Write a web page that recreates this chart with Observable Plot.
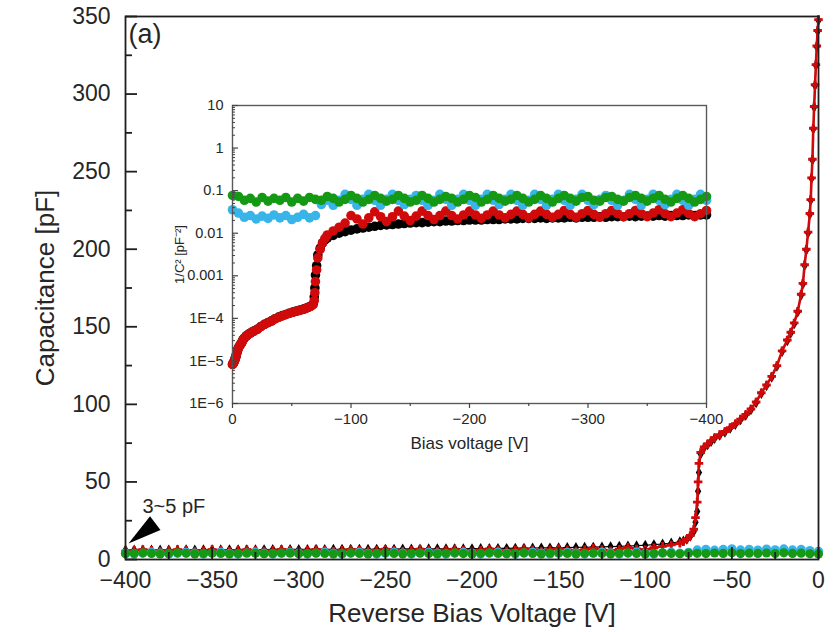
<!DOCTYPE html>
<html><head><meta charset="utf-8">
<script src="https://cdn.jsdelivr.net/npm/d3@7"></script>
<script src="https://cdn.jsdelivr.net/npm/@observablehq/plot@0.6"></script>
<style>
body{margin:0;background:#fff;}
#wrap{position:relative;width:833px;height:632px;overflow:hidden;}
#wrap svg{position:absolute;left:0;top:0;}
</style></head><body><div id="wrap"></div>
<script>
// ---------- DATA ----------
// red / black devices: voltage grid (V)
const vRB = [-400,-395,-390,-385,-380,-375,-370,-365,-360,-355,-350,-345,-340,-335,-330,-325,-320,-315,-310,-305,-300,-295,-290,-285,-280,-275,-270,-265,-260,-255,-250,-245,-240,-235,-230,-225,-220,-215,-210,-205,-200,-195,-190,-185,-180,-175,-170,-165,-160,-155,-150,-145,-140,-135,-130,-125,-120,-115,-110,-105,-100,-95,-90,-85,-80,
  -78,-76,-74,-72,-71,-70,-69.5,-69,-68,-66,-64,-62,-60,-57,-54,-51,-48,-45,-42,-39,-36,-33,-30,-27,-24,-21,-18,-16,-14,-12,-10,-9,-8,-7,-6,-5,-4.5,-4,-3.5,-3,-2.5,-2,-1.5,-1,-0.5,0];
// capacitance (pF)
const blackC = [6.1,6.1,6.2,6.1,6.2,6.2,6.2,6.3,6.2,6.3,6.3,6.3,6.4,6.3,6.4,6.4,6.4,6.5,6.4,6.5,6.5,6.5,6.6,6.5,6.6,6.6,6.6,6.7,6.6,6.7,6.7,6.7,6.8,6.8,6.8,6.9,6.9,6.9,7.0,7.0,7.0,7.1,7.1,7.2,7.2,7.3,7.3,7.4,7.5,7.5,7.6,7.7,7.8,7.9,8.0,8.1,8.3,8.5,8.7,8.9,9.2,9.6,10.0,10.6,11.4,
  12.0,13.0,15.0,18.0,24,31,44,56,68,72,74,76,78,80,82,84.5,87,90,93,96.5,101,107,112,117.5,124.5,134,141,146,152,159.5,170.5,177.5,189.5,199.5,210.5,222.5,231.5,245.5,257.5,277.5,291.5,305.5,318.5,330.5,340.5,347.5];
const redC = [5.4,5.9,6.4,5.9,5.3,5.8,6.4,5.9,5.3,5.8,6.4,5.9,5.4,5.9,6.4,5.9,5.4,5.9,6.5,6.0,5.4,5.9,6.5,6.0,5.4,6.0,6.5,6.0,5.5,6.0,6.6,6.0,5.5,6.0,6.6,6.1,5.5,6.1,6.7,6.1,5.5,6.1,6.8,6.2,5.5,6.2,6.9,6.2,5.5,6.3,7.1,6.3,5.5,6.4,7.3,6.4,5.6,6.6,7.8,6.8,6.2,7.6,8.5,9.4,10.5,
  11.5,13.0,15.5,19.5,27,37,50,62,69,72.5,74.5,76.5,78.5,80.5,82.5,85,87.5,90.5,93.5,97,101.5,107.5,112.5,118,125,134.5,141.5,146.5,152.5,160,171,178,190,200,211,223,232,246,258,278,292,306,319,331,341,348];
// blue / green devices: voltage grid (V)
const vBG = [-400,-395,-390,-385,-380,-375,-370,-365,-360,-355,-350,-345,-340,-335,-330,-325,-320,-315,-310,-305,-300,-295,-290,-285,-280,-275,-270,-265,-260,-255,-250,-245,-240,-235,-230,-225,-220,-215,-210,-205,-200,-195,-190,-185,-180,-175,-170,-165,-160,-155,-150,-145,-140,-135,-130,-125,-120,-115,-110,-105,-100,-95,-90,-85,-80,-75,-70,-65,-60,-55,-50,-45,-40,-35,-30,-25,-20,-15,-10,-5,0];
const greenC = [3.7,4.0,4.3,3.9,3.6,3.9,4.3,4.0,3.6,3.9,4.2,3.9,3.6,3.8,4.2,4.0,3.7,3.8,4.2,4.1,3.7,3.8,4.2,3.9,3.6,3.9,4.3,3.9,3.6,4.0,4.3,3.9,3.6,4.0,4.2,3.9,3.6,4.0,4.3,3.8,3.6,4.0,4.3,3.9,3.7,4.0,4.3,3.9,3.6,4.1,4.3,3.9,3.6,4.0,4.2,3.9,3.6,4.0,4.3,3.9,3.6,4.0,4.3,3.9,3.7,
  4.1,4.0,3.8,4.2,3.9,4.3,3.8,4.1,3.9,4.2,3.8,4.3,3.9,4.1,3.7,3.6];
const blueC = [4.1,3.5,4.0,4.7,4.1,3.5,4.0,4.6,4.1,3.5,4.0,4.7,4.0,3.5,4.1,4.7,4.1,3.6,4.0,4.6,4.1,3.5,4.0,4.7,4.1,3.5,4.0,4.7,4.0,3.5,4.1,4.7,4.1,3.5,4.0,4.6,4.1,3.5,4.0,4.7,4.1,3.5,4.0,4.7,4.0,3.5,4.1,4.7,4.1,3.6,4.0,4.6,4.1,3.5,4.0,4.7,4.1,3.5,4.0,4.7,4.0,3.5,4.1,4.7,4.1,
  4.6,6.2,6.6,6.0,6.5,6.9,6.2,6.6,6.1,6.7,6.3,6.8,6.2,6.5,5.8,5.3];

// ticks & labels
const mainXTicks = [-400,-350,-300,-250,-200,-150,-100,-50,0];
const mainXLabels = ["−400","−350","−300","−250","−200","−150","−100","−50","0"];
const mainXMinor = [-375,-325,-275,-225,-175,-125,-75,-25];
const mainYTicks = [0,50,100,150,200,250,300,350];
const mainYLabels = ["0","50","100","150","200","250","300","350"];
const mainYMinor = [25,75,125,175,225,275,325];
const insetXTicks = [0,-100,-200,-300,-400];
const insetXLabels = ["0","−100","−200","−300","−400"];
const insetXMinor = [-50,-150,-250,-350];
const insetYTicks = [1e-6,1e-5,1e-4,1e-3,1e-2,1e-1,1,10];
const insetYLabels = ["1E−6","1E−5","1E−4","0.001","0.01","0.1","1","10"];
const insetYMinor = [];
for (const d of insetYTicks.slice(0, -1)) for (let k = 2; k <= 9; k++) insetYMinor.push(d * k);

// ---------- TABLES ----------
const black = vRB.map((V, i) => ({V, C: blackC[i], inv: 1 / (blackC[i] * blackC[i])}));
const red = vRB.map((V, i) => ({V, C: redC[i], inv: 1 / (redC[i] * redC[i])}));
const green = vBG.map((V, i) => ({V, C: greenC[i], inv: 1 / (greenC[i] * greenC[i])}));
const blue = vBG.map((V, i) => ({V, C: blueC[i], inv: 1 / (blueC[i] * blueC[i])}));

const FONT = "'Liberation Sans', Arimo, Arial, sans-serif";
const TXT = "#262626";
const AX = "#1e1e1e";
const COL = {black: "#000000", red: "#d00a0a", blue: "#38b4e8", green: "#159915"};
const id = d => d;

const arrowHead = {draw(ctx, size) {
  const r = Math.sqrt(size / Math.PI), L = r * 2.8, w = r * 0.72;
  ctx.moveTo(0, 0); ctx.lineTo(w, L); ctx.lineTo(-w, L); ctx.closePath();
}};

// frame sizes (px) used to turn full-frame ticks into short tick marks
const MAIN_W = 833 - 125 - 15, MAIN_H = 632 - 16 - 73;
const INS_W = 833 - 232 - 127, INS_H = 632 - 105 - 229;

// ---------- MAIN PLOT ----------
const main = Plot.plot({
  width: 833, height: 632,
  marginLeft: 125, marginRight: 15, marginTop: 16, marginBottom: 73,
  style: {fontFamily: FONT, background: "white", color: TXT},
  x: {domain: [-400, 0], axis: null},
  y: {domain: [0, 350], axis: null},
  marks: [
    Plot.line(black, {x: "V", y: "C", stroke: COL.black, strokeWidth: 1.2}),
    Plot.dot(black, {x: "V", y: "C", symbol: "diamond", r: 3.3, fill: COL.black}),
    Plot.line(red, {x: "V", y: "C", stroke: COL.red, strokeWidth: 2.6}),
    Plot.dot(red, {x: "V", y: "C", symbol: "cross", r: 3.6, fill: COL.red}),
    Plot.dot(blue, {x: "V", y: "C", r: 4.6, fill: COL.blue}),
    Plot.dot(green, {x: "V", y: "C", r: 4.6, fill: COL.green}),
    Plot.frame({stroke: AX, strokeWidth: 1.8}),
    Plot.tickX(mainXTicks, {x: id, insetTop: MAIN_H - 12, stroke: AX, strokeWidth: 1.8}),
    Plot.tickX(mainXMinor, {x: id, insetTop: MAIN_H - 7, stroke: AX, strokeWidth: 1.8}),
    Plot.tickY(mainYTicks, {y: id, insetRight: MAIN_W - 12, stroke: AX, strokeWidth: 1.8}),
    Plot.tickY(mainYMinor, {y: id, insetRight: MAIN_W - 7, stroke: AX, strokeWidth: 1.8}),
    Plot.text(mainXTicks, {x: id, frameAnchor: "bottom", text: (d, i) => mainXLabels[i], dy: 12, lineAnchor: "top", fontSize: 23, fill: TXT}),
    Plot.text(mainYTicks, {y: id, frameAnchor: "left", text: (d, i) => mainYLabels[i], dx: -15, textAnchor: "end", lineAnchor: "middle", fontSize: 23, fill: TXT}),
    Plot.text(["Capacitance [pF]"], {frameAnchor: "left", rotate: -90, dx: -80, textAnchor: "middle", lineAnchor: "middle", fontSize: 26, fill: TXT}),
    Plot.text(["Reverse Bias Voltage [V]"], {frameAnchor: "bottom", dy: 54, textAnchor: "middle", lineAnchor: "middle", fontSize: 26, fill: TXT}),
    Plot.text(["(a)"], {frameAnchor: "top-left", dx: 3, dy: 7, fontSize: 27, textAnchor: "start", lineAnchor: "top", fill: TXT}),
    Plot.text(["3~5 pF"], {frameAnchor: "bottom-left", dx: 17, dy: -53, fontSize: 20, textAnchor: "start", lineAnchor: "middle", fill: TXT}),
    Plot.dot([0], {frameAnchor: "bottom-left", dx: 3, dy: -16, r: 12, symbol: arrowHead, rotate: 232.8, fill: "#000"})
  ]
});

// ---------- INSET ----------
const inset = Plot.plot({
  width: 833, height: 632,
  marginLeft: 232, marginRight: 127, marginTop: 105, marginBottom: 229,
  style: {fontFamily: FONT, background: "transparent", color: TXT},
  x: {domain: [0, -400], axis: null},
  y: {type: "log", domain: [1e-6, 10], axis: null},
  marks: [
    Plot.dot(black, {x: "V", y: "inv", r: 4.8, fill: COL.black}),
    Plot.dot(red, {x: "V", y: "inv", r: 4.8, fill: COL.red}),
    Plot.dot(blue, {x: "V", y: "inv", r: 4.8, fill: COL.blue}),
    Plot.dot(green, {x: "V", y: "inv", r: 4.8, fill: COL.green}),
    Plot.frame({stroke: "#5a5a5a", strokeWidth: 1.4}),
    Plot.tickX(insetXTicks, {x: id, insetTop: INS_H, insetBottom: -5, stroke: "#444", strokeWidth: 1.2}),
    Plot.tickX(insetXMinor, {x: id, insetTop: INS_H, insetBottom: -3, stroke: "#444", strokeWidth: 1.2}),
    Plot.tickY(insetYTicks, {y: id, insetRight: INS_W - 6, stroke: "#444", strokeWidth: 1.2}),
    Plot.tickY(insetYMinor, {y: id, insetRight: INS_W - 3, stroke: "#444", strokeWidth: 1}),
    Plot.text(insetXTicks, {x: id, frameAnchor: "bottom", text: (d, i) => insetXLabels[i], dy: 10, lineAnchor: "top", fontSize: 15, fill: TXT}),
    Plot.text(insetYTicks, {y: id, frameAnchor: "left", text: (d, i) => insetYLabels[i], dx: -9, textAnchor: "end", lineAnchor: "middle", fontSize: 14.5, fill: TXT}),
    Plot.text(["1/C² [pF⁻²]"], {frameAnchor: "left", rotate: -90, dx: -53, textAnchor: "middle", lineAnchor: "middle", fontSize: 13, fill: TXT}),
    Plot.text(["Bias voltage [V]"], {frameAnchor: "bottom", dy: 40, textAnchor: "middle", lineAnchor: "middle", fontSize: 17, fill: TXT})
  ]
});

const wrap = document.getElementById("wrap");
wrap.appendChild(main);
inset.style.pointerEvents = "none";
wrap.appendChild(inset);
</script></body></html>
